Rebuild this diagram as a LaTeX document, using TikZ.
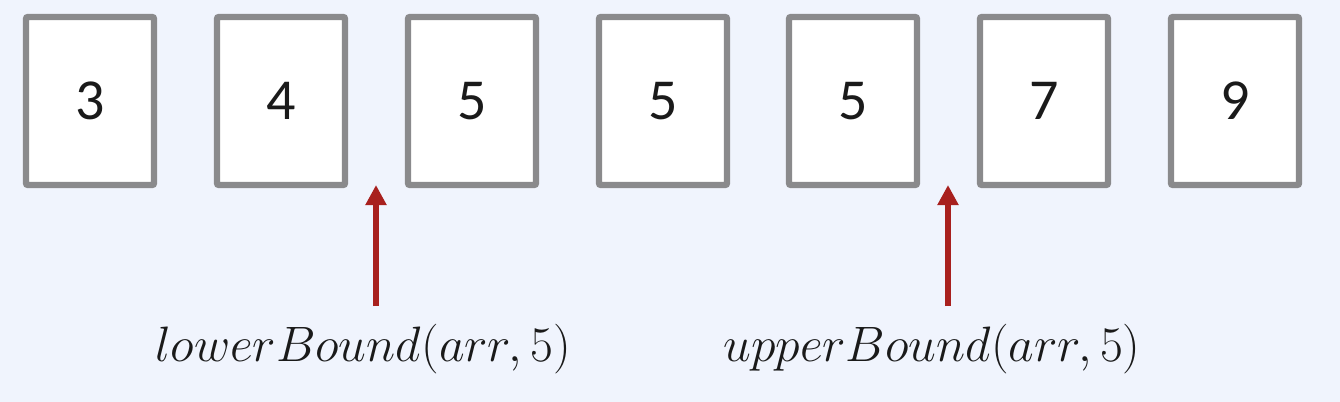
\documentclass[tikz,border=0pt]{standalone}
\usepackage{fontspec}
\newfontfamily\digitfont{Carlito}
\usetikzlibrary{arrows.meta}
\definecolor{bg}{HTML}{F0F4FD}
\definecolor{boxline}{HTML}{8A8A8C}
\definecolor{arrred}{HTML}{A8201E}
\definecolor{txt}{HTML}{1A1A1A}
\tikzset{
  cell/.style={draw=boxline, fill=white, line width=3.2pt, rounded corners=1pt,
    minimum width=64pt, minimum height=84pt, inner sep=0pt,
    font=\digitfont\fontsize{29}{30}\selectfont, text=txt},
  ptr/.style={draw=arrred, line width=2.8pt, -{Triangle[length=10pt,width=10pt]}},
  lbl/.style={text=txt, inner sep=0pt, font=\fontsize{24.3}{26}\selectfont}
}
\begin{document}
\begin{tikzpicture}[x=0.5pt,y=-0.5pt]
\fill[bg] (0,0) rectangle (1340,402);
\useasboundingbox (0,0) rectangle (1340,402);
\node[cell] (c1) at (90,101) {3};
\node[cell] (c2) at (281,101) {4};
\node[cell] (c3) at (472,101) {5};
\node[cell] (c4) at (663,101) {5};
\node[cell] (c5) at (853,101) {5};
\node[cell] (c6) at (1044,101) {7};
\node[cell] (c7) at (1235,101) {9};
\coordinate (a1s) at (376,306);
\coordinate (a1e) at (376,185);
\coordinate (a2s) at (948,306);
\coordinate (a2e) at (948,185);
\draw[ptr] (a1s) -- (a1e);
\draw[ptr] (a2s) -- (a2e);
\node[lbl, anchor=base] (l1) at (363,361) {$lowerBound(arr,5)$};
\node[lbl, anchor=base] (l2) at (932,361) {$upperBound(arr,5)$};
\end{tikzpicture}
\end{document}
